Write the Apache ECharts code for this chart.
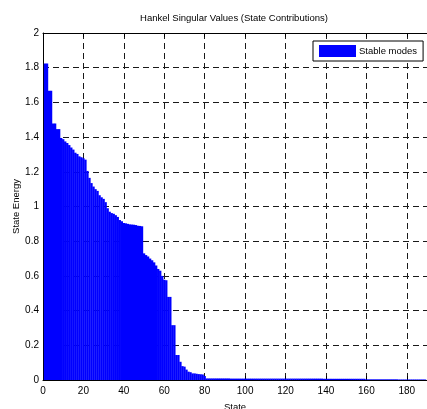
<!DOCTYPE html>
<html>
<head>
<meta charset="utf-8">
<script src="https://cdn.jsdelivr.net/npm/echarts@6/dist/echarts.min.js"></script>
<style>
  html, body { margin: 0; padding: 0; background: #fff; }
  #chart { width: 427px; height: 409px; }
</style>
</head>
<body>
<div id="chart"></div>
<script>
// Hankel singular values, one per state (states numbered from 1)
const energyLeading = [
  1.824, 1.824, 1.667, 1.667, 1.479, 1.479, 1.446, 1.446, 1.395, 1.388,
  1.375, 1.366, 1.354, 1.340, 1.328, 1.310, 1.303, 1.289, 1.284, 1.278,
  1.270, 1.205, 1.165, 1.135, 1.115, 1.100, 1.090, 1.065, 1.053, 1.044,
  1.025, 0.990, 0.970, 0.962, 0.958, 0.950, 0.940, 0.922, 0.915, 0.905,
  0.903, 0.900, 0.897, 0.896, 0.895, 0.893, 0.889, 0.888, 0.886, 0.730,
  0.720, 0.712, 0.700, 0.690, 0.678, 0.660, 0.640, 0.630, 0.600, 0.578,
  0.575, 0.479, 0.479, 0.316, 0.316, 0.144, 0.144, 0.105, 0.080, 0.077,
  0.060, 0.048, 0.045, 0.038, 0.038, 0.036, 0.034, 0.033, 0.032, 0.023
];
// states 81..159
const energyMid = [
  0.009, 0.009, 0.009, 0.009, 0.009, 0.009, 0.009, 0.009, 0.009, 0.009,
  0.009, 0.009, 0.008, 0.008, 0.008, 0.008, 0.008, 0.008, 0.008, 0.008,
  0.008, 0.008, 0.008, 0.008, 0.008, 0.008, 0.008, 0.008, 0.008, 0.008,
  0.008, 0.008, 0.008, 0.008, 0.008, 0.008, 0.008, 0.008, 0.008, 0.008,
  0.008, 0.008, 0.008, 0.008, 0.008, 0.008, 0.008, 0.008, 0.008, 0.008,
  0.008, 0.008, 0.008, 0.008, 0.008, 0.008, 0.008, 0.008, 0.007, 0.007,
  0.007, 0.007, 0.007, 0.007, 0.007, 0.007, 0.007, 0.007, 0.007, 0.007,
  0.007, 0.007, 0.007, 0.007, 0.007, 0.007, 0.007, 0.007, 0.007
];
// states 160..189
const energyTail = [
  0.004, 0.004, 0.004, 0.004, 0.004, 0.004, 0.004, 0.004, 0.004, 0.004,
  0.004, 0.004, 0.004, 0.004, 0.004, 0.004, 0.003, 0.003, 0.003, 0.003,
  0.003, 0.003, 0.003, 0.003, 0.003, 0.003, 0.003, 0.003, 0.003, 0.003
];
const xTicks = [0, 20, 40, 60, 80, 100, 120, 140, 160, 180];
const yTicks = [0, 0.2, 0.4, 0.6, 0.8, 1, 1.2, 1.4, 1.6, 1.8, 2];

const energy = energyLeading.concat(energyMid, energyTail);
const barData = energy.map((v, i) => [i + 1, v]);

const FONT = '"Liberation Sans", Arial, Helvetica, sans-serif';
const gridDash = { color: '#1a1a1a', width: 1, type: [6, 4] };

const chart = echarts.init(document.getElementById('chart'), null, { renderer: 'canvas' });
chart.setOption({
  animation: false,
  backgroundColor: '#fff',
  textStyle: { fontFamily: FONT, color: '#000' },
  graphic: [{
    type: 'text', x: 234, y: 18,
    style: {
      text: 'Hankel Singular Values (State Contributions)',
      font: '9.5px ' + FONT, fill: '#000',
      align: 'center', verticalAlign: 'middle',
      textAlign: 'center', textVerticalAlign: 'middle'
    }
  }],
  legend: {
    left: 313, top: 41,
    padding: [4, 6, 4, 6],
    itemWidth: 37, itemHeight: 12, icon: 'rect',
    borderColor: '#000', borderWidth: 1, borderRadius: 0,
    backgroundColor: '#fff',
    textStyle: { fontSize: 9.5, fontFamily: FONT, color: '#000', padding: [0, 0, 0, -2] },
    data: ['Stable modes']
  },
  grid: { left: 43, right: 0, top: 33, bottom: 29, containLabel: false, outerBoundsMode: 'none' },
  xAxis: [{
    type: 'value', min: 0, max: 190, interval: 20,
    name: 'State', nameLocation: 'middle', nameGap: 22, nameMoveOverlap: false,
    nameTextStyle: { fontSize: 9.5, fontFamily: FONT, color: '#000' },
    axisLine: { show: true, lineStyle: { color: '#000', width: 1 } },
    axisTick: { show: true, inside: true, length: 4, lineStyle: { color: '#000' } },
    axisLabel: {
      fontSize: 10, fontFamily: FONT, color: '#000', margin: 6,
      formatter: v => (xTicks.indexOf(v) >= 0 ? String(v) : '')
    },
    splitLine: { show: true, lineStyle: gridDash }
  }, {
    type: 'value', min: 0, max: 190, interval: 20, position: 'top',
    axisLine: { show: true, onZero: false, lineStyle: { color: '#000', width: 1 } },
    axisTick: { show: true, inside: true, length: 4, lineStyle: { color: '#000' } },
    axisLabel: { show: false },
    splitLine: { show: false }
  }],
  yAxis: {
    type: 'value', min: 0, max: 2, interval: 0.2,
    name: 'State Energy', nameLocation: 'middle', nameGap: 22, nameRotate: 90,
    nameMoveOverlap: false,
    nameTextStyle: { fontSize: 9.5, fontFamily: FONT, color: '#000' },
    axisLine: { show: true, lineStyle: { color: '#000', width: 1 } },
    axisTick: { show: true, inside: true, length: 4, lineStyle: { color: '#000' } },
    axisLabel: {
      fontSize: 10, fontFamily: FONT, color: '#000', margin: 4,
      formatter: v => {
        const t = yTicks.find(k => Math.abs(k - v) < 1e-9);
        return t === undefined ? '' : String(t);
      }
    },
    splitLine: { show: true, lineStyle: gridDash }
  },
  series: [{
    name: 'Stable modes',
    type: 'bar',
    xAxisIndex: 0,
    data: barData,
    barWidth: '115%',
    itemStyle: { color: '#0000ff' },
    emphasis: { disabled: true }
  }]
});
</script>
</body>
</html>
